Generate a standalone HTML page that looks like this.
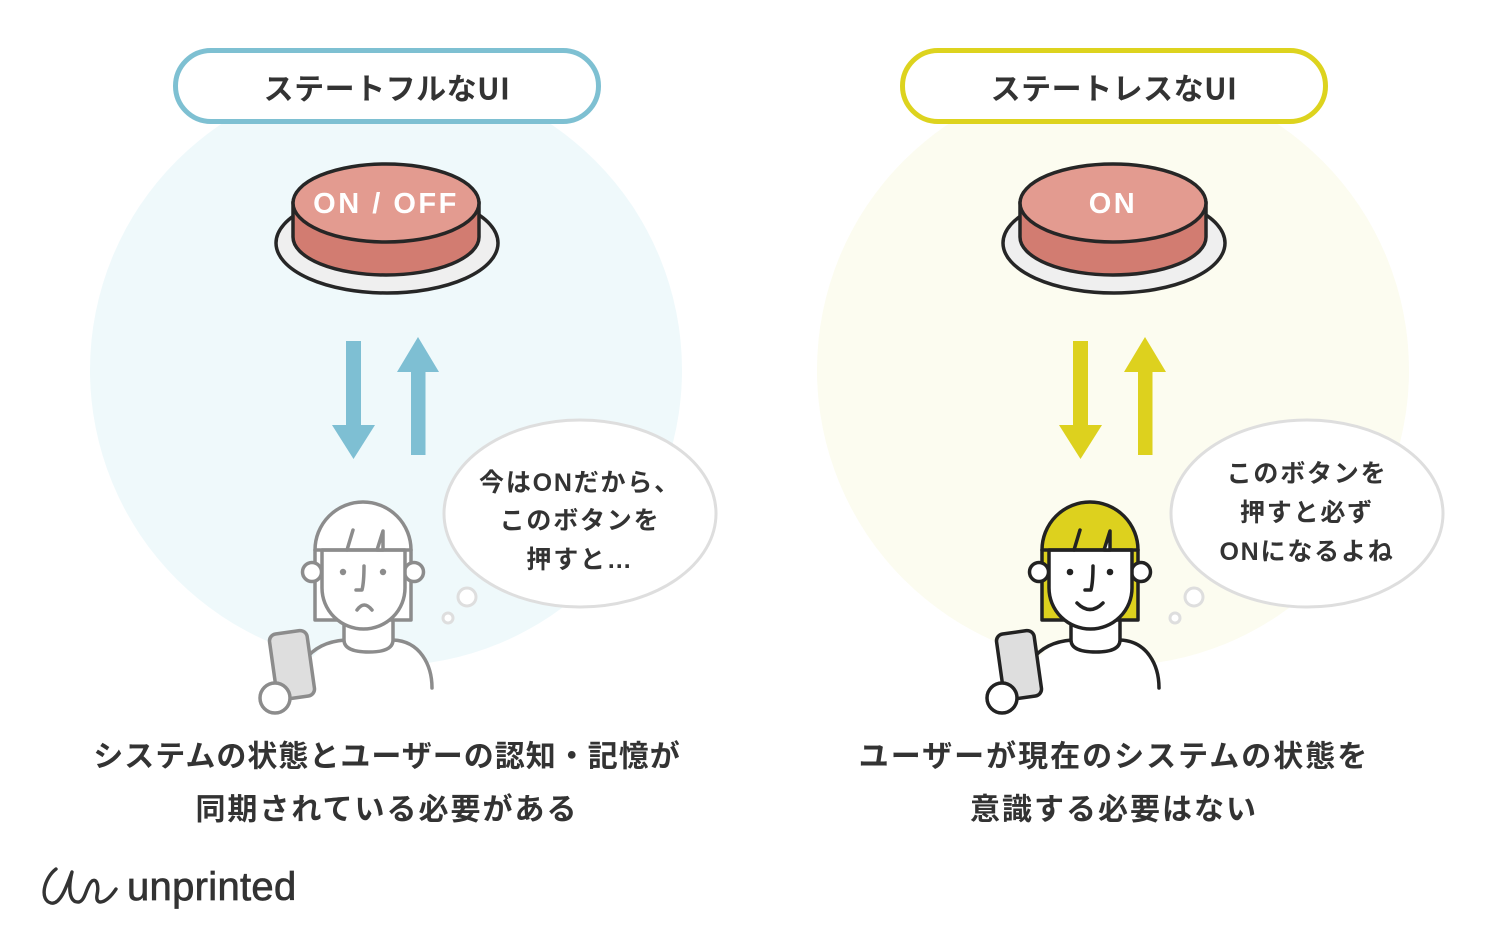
<!DOCTYPE html>
<html><head><meta charset="utf-8">
<style>
html,body{margin:0;padding:0;background:#fff;}
svg{display:block;}
text{font-family:"Liberation Sans","Noto Sans CJK JP",sans-serif;}
.jp{font-family:"Noto Sans CJK JP","Liberation Sans",sans-serif;font-weight:700;fill:#333;}
</style></head>
<body>
<svg width="1500" height="938" viewBox="0 0 1500 938" xmlns="http://www.w3.org/2000/svg">
<rect width="1500" height="938" fill="#fff"/>
<!-- background circles -->
<circle cx="386" cy="370" r="296" fill="#EFF9FB"/>
<circle cx="1113" cy="370" r="296" fill="#FCFCF0"/>

<!-- pills -->
<rect x="175.5" y="50.5" width="423" height="71" rx="35.5" fill="#fff" stroke="#7EC0D2" stroke-width="5"/>
<text x="387" y="86.5" class="jp" font-size="30" text-anchor="middle" dominant-baseline="central" letter-spacing="0.5">ステートフルなUI</text>
<rect x="902.5" y="50.5" width="423" height="71" rx="35.5" fill="#fff" stroke="#DDD31E" stroke-width="5"/>
<text x="1114" y="86.5" class="jp" font-size="30" text-anchor="middle" dominant-baseline="central" letter-spacing="0.5">ステートレスなUI</text>

<!-- buttons -->
<g stroke="#262626" stroke-width="3.5">
  <ellipse cx="387" cy="243" rx="111" ry="50" fill="#EFEFEF"/>
  <path d="M293 203 L293 237 A93 38 0 0 0 479 237 L479 203 Z" fill="#D27C71"/>
  <ellipse cx="386" cy="203" rx="93" ry="39" fill="#E39B90"/>
</g>
<text x="386" y="204" font-size="29" font-weight="700" fill="#fff" text-anchor="middle" dominant-baseline="central" letter-spacing="2.5">ON / OFF</text>
<g stroke="#262626" stroke-width="3.5">
  <ellipse cx="1114" cy="243" rx="111" ry="50" fill="#EFEFEF"/>
  <path d="M1020 203 L1020 237 A93 38 0 0 0 1206 237 L1206 203 Z" fill="#D27C71"/>
  <ellipse cx="1113" cy="203" rx="93" ry="39" fill="#E39B90"/>
</g>
<text x="1113" y="204" font-size="29" font-weight="700" fill="#fff" text-anchor="middle" dominant-baseline="central" letter-spacing="2.5">ON</text>

<!-- arrows -->
<g fill="#7EBFD3">
  <rect x="346" y="341" width="15" height="86"/>
  <polygon points="332,425 375,425 353.5,459"/>
  <rect x="411" y="370" width="14.5" height="85"/>
  <polygon points="397,372 439,372 418,337"/>
</g>
<g fill="#DDD11E">
  <rect x="1073" y="341" width="15" height="86"/>
  <polygon points="1059,425 1102,425 1080.5,459"/>
  <rect x="1138" y="370" width="14.5" height="85"/>
  <polygon points="1124,372 1166,372 1145,337"/>
</g>

<!-- bubbles -->
<g fill="#fff" stroke="#DEDEDE" stroke-width="3">
  <ellipse cx="580" cy="513.5" rx="136" ry="93.5"/>
  <circle cx="467" cy="597" r="9"/>
  <circle cx="448" cy="618" r="5"/>
  <ellipse cx="1307" cy="513.5" rx="136" ry="93.5"/>
  <circle cx="1194" cy="597" r="9"/>
  <circle cx="1175" cy="618" r="5"/>
</g>
<g class="jp" font-size="25" text-anchor="middle" letter-spacing="1.8">
  <text x="580" y="483" dominant-baseline="central">今はONだから、</text>
  <text x="580" y="521" dominant-baseline="central">このボタンを</text>
  <text x="580" y="560" dominant-baseline="central">押すと…</text>
  <text x="1307" y="474" dominant-baseline="central">このボタンを</text>
  <text x="1307" y="513" dominant-baseline="central">押すと必ず</text>
  <text x="1307" y="552" dominant-baseline="central">ONになるよね</text>
</g>

<!-- left person -->
<g stroke="#8C8C8C" stroke-width="3.5" stroke-linecap="round" stroke-linejoin="round">
  <path d="M300 700 Q 305 642 345 640 L393 640 C 420 641 432 665 432 688 L432 700 Z" fill="#fff" stroke="none"/>
  <path d="M305 660 Q 318 642 345 640" fill="none"/>
  <path d="M393 640 C 420 641 432 665 432 688" fill="none"/>
  <path d="M344 620 L344 640 Q 344 652 369 652 Q 393 652 393 640 L393 620" fill="#fff"/>
  <path d="M315 620 L315 550 A48 48 0 0 1 411 550 L411 620 Z" fill="#fff"/>
  <circle cx="312" cy="572" r="9.5" fill="#fff"/>
  <circle cx="414" cy="572" r="9.5" fill="#fff"/>
  <path d="M322 550 L322 588 A41.5 41 0 0 0 405 588 L405 550 Z" fill="#fff"/>
  <path d="M315 550 L411 550" fill="none"/>
  <path d="M353 530 L347 550" fill="none"/>
  <path d="M383 531 L377 550 L383 550 Z" fill="#fff"/>
  <circle cx="343" cy="572" r="3.2" fill="#8C8C8C" stroke="none"/>
  <circle cx="383" cy="572" r="3.2" fill="#8C8C8C" stroke="none"/>
  <path d="M364 566 Q 364 582 362 590 L356 590" fill="none"/>
  <path d="M357 610 Q 364 600 372 610" fill="none"/>
  <rect x="-19" y="-33" width="38" height="66" rx="7" transform="translate(292,665) rotate(-8)" fill="#DEDEDE"/>
  <circle cx="275" cy="698" r="15" fill="#fff"/>
</g>

<!-- right person -->
<g transform="translate(727,0)" stroke="#222" stroke-width="3.5" stroke-linecap="round" stroke-linejoin="round">
  <path d="M300 700 Q 305 642 345 640 L393 640 C 420 641 432 665 432 688 L432 700 Z" fill="#fff" stroke="none"/>
  <path d="M305 660 Q 318 642 345 640" fill="none"/>
  <path d="M393 640 C 420 641 432 665 432 688" fill="none"/>
  <path d="M344 620 L344 640 Q 344 652 369 652 Q 393 652 393 640 L393 620" fill="#fff"/>
  <path d="M315 620 L315 550 A48 48 0 0 1 411 550 L411 620 Z" fill="#DDD11E"/>
  <circle cx="312" cy="572" r="9.5" fill="#fff"/>
  <circle cx="414" cy="572" r="9.5" fill="#fff"/>
  <path d="M322 550 L322 588 A41.5 41 0 0 0 405 588 L405 550 Z" fill="#fff"/>
  <path d="M315 550 L411 550" fill="none"/>
  <path d="M353 530 L347 550" fill="none"/>
  <path d="M383 531 L377 550 L383 550 Z" fill="#fff"/>
  <circle cx="343" cy="572" r="3.3" fill="#222" stroke="none"/>
  <circle cx="383" cy="572" r="3.3" fill="#222" stroke="none"/>
  <path d="M366 566 Q 366 582 364 590 L358 590" fill="none"/>
  <path d="M350 603 Q 363 616 376 603" fill="none"/>
  <rect x="-19" y="-33" width="38" height="66" rx="7" transform="translate(292,665) rotate(-8)" fill="#DEDEDE"/>
  <circle cx="275" cy="698" r="15" fill="#fff"/>
</g>

<!-- bottom captions -->
<g class="jp" font-size="30" text-anchor="middle">
  <text x="387" y="757" dominant-baseline="central" letter-spacing="1">システムの状態とユーザーの認知・記憶が</text>
  <text x="387" y="810" dominant-baseline="central" letter-spacing="2">同期されている必要がある</text>
  <text x="1114" y="757" dominant-baseline="central" letter-spacing="2">ユーザーが現在のシステムの状態を</text>
  <text x="1114" y="810" dominant-baseline="central" letter-spacing="2">意識する必要はない</text>
</g>

<!-- logo -->
<path d="M56 869 C 44 878, 39 900, 51 903 C 60 905, 66 888, 72 872 C 68 888, 69 903, 79 902 C 86 900, 86 886, 92 881 C 97 878, 99 886, 97 895 C 95 906, 106 904, 116 889" fill="none" stroke="#333" stroke-width="3.4" stroke-linecap="round" stroke-linejoin="round"/>
<text x="127" y="900" font-size="40" fill="#333" stroke="#333" stroke-width="0.7" letter-spacing="0.3">unprinted</text>
</svg>
</body></html>
